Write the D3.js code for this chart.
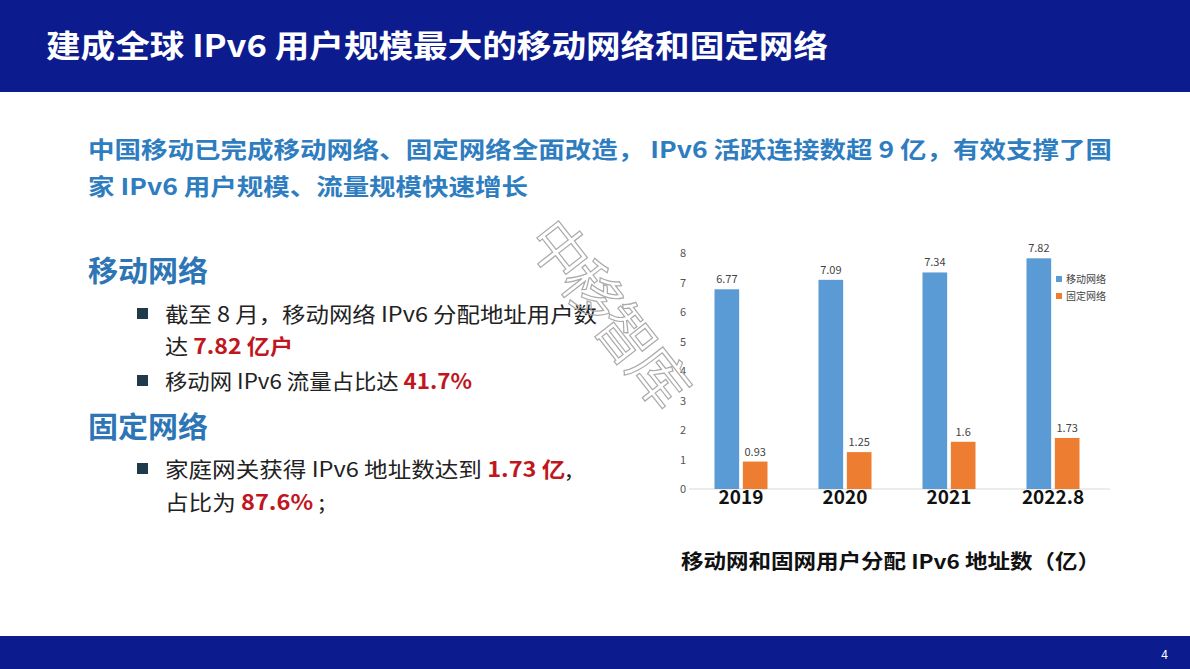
<!DOCTYPE html>
<html><head><meta charset="utf-8">
<script src="https://cdn.jsdelivr.net/npm/d3@7"></script>
<style>body{margin:0;background:#fff}svg{display:block}</style>
</head><body>
<svg id="c" width="1190" height="669"></svg>
<script>
const categories = ["2019", "2020", "2021", "2022.8"];
const mobile = [6.77, 7.09, 7.34, 7.82];
const fixed = [0.93, 1.25, 1.6, 1.73];
const seriesNames = ["移动网络", "固定网络"];
const colors = ["#5b9bd5", "#ed7d31"];
const yTicks = [0, 1, 2, 3, 4, 5, 6, 7, 8];

const svg = d3.select("#c");
const font = "'Noto Sans CJK SC', 'Noto Sans', sans-serif";

// header and footer bars
svg.append("rect").attr("x", 0).attr("y", 0).attr("width", 1190).attr("height", 92).attr("fill", "#0c1c8f");
svg.append("text").attr("x", 46).attr("y", 57).attr("fill", "#fff").attr("font-family", font)
  .attr("font-size", 31).attr("font-weight", "bold").attr("textLength", 782).attr("lengthAdjust", "spacingAndGlyphs")
  .text("建成全球 IPv6 用户规模最大的移动网络和固定网络");
svg.append("rect").attr("x", 0).attr("y", 636).attr("width", 1190).attr("height", 33).attr("fill", "#0c1c8f");
svg.append("text").attr("x", 1168).attr("y", 659).attr("fill", "#fff").attr("font-family", font)
  .attr("font-size", 12).attr("text-anchor", "end").text("4");

// subtitle
const sub = [["中国移动已完成移动网络、固定网络全面改造， IPv6 活跃连接数超 9 亿，有效支撑了国", 1024], ["家 IPv6 用户规模、流量规模快速增长", 440]];
sub.forEach((s, i) => svg.append("text").attr("x", 88).attr("y", 158 + i * 37).attr("fill", "#2e7dc0")
  .attr("font-family", font).attr("font-size", 23).attr("font-weight", "bold")
  .attr("textLength", s[1]).attr("lengthAdjust", "spacingAndGlyphs").text(s[0]));

// left text block
function heading(t, y) {
  svg.append("text").attr("x", 88).attr("y", y).attr("fill", "#2e75b6").attr("font-family", font)
    .attr("font-size", 29).attr("font-weight", "bold").attr("textLength", 120)
    .attr("lengthAdjust", "spacingAndGlyphs").text(t);
}
function bullet(parts, y, mark, len) {
  if (mark) svg.append("rect").attr("x", 137).attr("y", y - 14).attr("width", 11).attr("height", 11).attr("fill", "#1f3a4a");
  const t = svg.append("text").attr("x", 165).attr("y", y).attr("font-family", font).attr("font-size", 21)
    .attr("fill", "#222").attr("textLength", len).attr("lengthAdjust", "spacingAndGlyphs");
  parts.forEach(p => t.append("tspan").attr("fill", p[1] ? "#c0161e" : "#222")
    .attr("font-weight", p[1] ? "bold" : "normal").text(p[0]));
}
heading("移动网络", 282);
bullet([["截至 8 月，移动网络 IPv6 分配地址用户数"]], 322, true, 432);
bullet([["达 "], ["7.82 亿户", 1]], 354, false, 128);
bullet([["移动网 IPv6 流量占比达 "], ["41.7%", 1]], 389, true, 307);
heading("固定网络", 438);
bullet([["家庭网关获得 IPv6 地址数达到 "], ["1.73 亿", 1], [","]], 477, true, 407);
bullet([["占比为 "], ["87.6%", 1], [" ;"]], 510, false, 160);

// chart
const y = d3.scaleLinear().domain([0, 8]).range([489, 253]);
const x = d3.scaleBand().domain(categories).range([689, 1105]).paddingInner(0).paddingOuter(0);
const inner = d3.scaleBand().domain(seriesNames).range([0, 53]).paddingInner(0.13);
const off = (x.bandwidth() - 53) / 2;

svg.append("line").attr("x1", 689).attr("x2", 1110).attr("y1", y(0)).attr("y2", y(0)).attr("stroke", "#d9d9d9");
const ya = svg.append("g").attr("transform", "translate(686,0)")
  .call(d3.axisLeft(y).tickValues(yTicks).tickSize(0).tickPadding(0));
ya.select(".domain").remove();
ya.selectAll("text").attr("font-family", font).attr("font-size", 11).attr("fill", "#555");

[mobile, fixed].forEach((vals, si) => {
  const g = svg.append("g");
  g.selectAll("rect").data(vals).join("rect")
    .attr("x", (d, i) => x(categories[i]) + off + inner(seriesNames[si]))
    .attr("y", d => y(d)).attr("width", inner.bandwidth()).attr("height", d => y(0) - y(d))
    .attr("fill", colors[si]);
  g.selectAll("text").data(vals).join("text")
    .attr("x", (d, i) => x(categories[i]) + off + inner(seriesNames[si]) + inner.bandwidth() / 2)
    .attr("y", d => y(d) - 6).attr("text-anchor", "middle").attr("font-family", font)
    .attr("font-size", 11).attr("fill", "#444").text(d => d);
});

const xa = svg.append("g").attr("transform", `translate(0,${y(0)})`)
  .call(d3.axisBottom(x).tickSize(0).tickPadding(1));
xa.select(".domain").remove();
xa.selectAll("text").attr("font-family", font).attr("font-size", 19).attr("font-weight", "bold").attr("fill", "#111");

const lg = svg.append("g").attr("transform", "translate(1056,276)");
seriesNames.forEach((n, i) => {
  lg.append("rect").attr("x", 0).attr("y", i * 17).attr("width", 6).attr("height", 6).attr("fill", colors[i]);
  lg.append("text").attr("x", 10).attr("y", i * 17 + 7).attr("font-family", font).attr("font-size", 10)
    .attr("fill", "#444").text(n);
});

svg.append("text").attr("x", 681).attr("y", 569).attr("font-family", font)
  .attr("font-size", 20).attr("font-weight", "bold").attr("fill", "#111")
  .attr("textLength", 419).attr("lengthAdjust", "spacingAndGlyphs").text("移动网和固网用户分配 IPv6 地址数（亿）");

// watermark
svg.append("text").attr("transform", "translate(525,240) rotate(52)").attr("font-family", font)
  .attr("font-size", 58).attr("fill", "none").attr("stroke", "#aaa").attr("stroke-width", 1.2)
  .attr("letter-spacing", -4).text("中移智库");
</script>
</body></html>
